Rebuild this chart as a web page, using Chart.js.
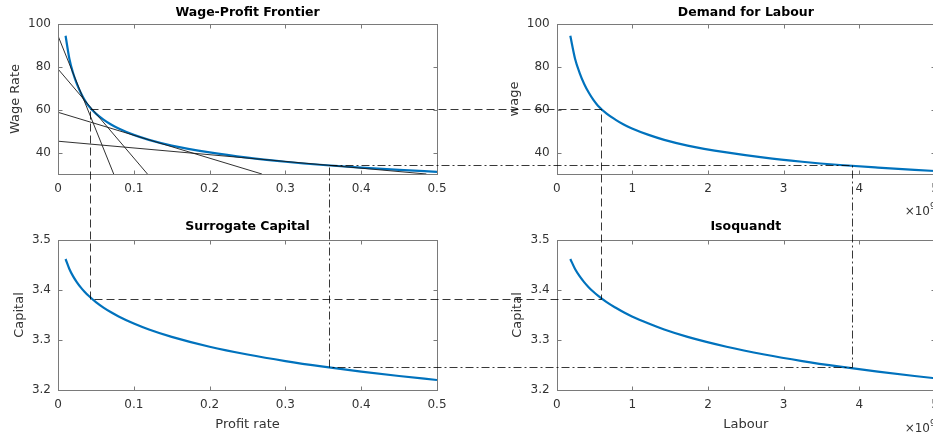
<!DOCTYPE html>
<html>
<head>
<meta charset="utf-8">
<script src="https://cdn.jsdelivr.net/npm/chart.js@4.4.1/dist/chart.umd.min.js"></script>
<style>
  html, body { margin: 0; padding: 0; background: #fff; overflow: hidden; width: 933px; height: 437px; }
  canvas { position: absolute; }
  #overlay { left: 0; top: 0; pointer-events: none; }
</style>
</head>
<body>
<canvas id="wpf" width="470" height="218" style="left:0;top:0"></canvas>
<canvas id="dfl" width="480" height="218" style="left:470px;top:0"></canvas>
<canvas id="sc" width="470" height="237" style="left:0;top:200px"></canvas>
<canvas id="iso" width="480" height="237" style="left:470px;top:200px"></canvas>
<canvas id="overlay" width="933" height="437"></canvas>
<script>
// everything is parametrised by the profit rate
const profitRate = [0.01, 0.015, 0.02, 0.025, 0.03, 0.035, 0.04, 0.05, 0.06, 0.07, 0.08, 0.10, 0.12, 0.15, 0.20, 0.25, 0.30, 0.35, 0.40, 0.45, 0.50];
const wageRate   = [94.5, 83.8, 77.0, 71.9, 67.9, 64.6, 61.9, 58.2, 55.4, 53.1, 51.25, 48.25, 45.95, 43.27, 40.07, 37.62, 35.73, 34.2, 32.98, 31.93, 31.0];
const capital    = [3.4620, 3.4421, 3.4272, 3.4153, 3.4052, 3.3966, 3.3889, 3.3758, 3.3649, 3.3555, 3.3472, 3.3330, 3.3211, 3.3063, 3.2866, 3.2710, 3.2579, 3.2467, 3.2368, 3.2280, 3.2200];
const labour     = [0.18, 0.2425, 0.305, 0.365, 0.425, 0.485, 0.545, 0.66, 0.775, 0.885, 0.995, 1.215, 1.421, 1.73, 2.245, 2.745, 3.245, 3.745, 4.245, 4.73, 5.215]; // x 10^9

// techniques (straight wage-profit lines), wage at r = 0 and rate where wage hits 30
const techWageAtZero = [94.5, 79.0, 58.8, 45.3];
const techRateAt30   = [0.0735, 0.118, 0.269, 0.486];

// the two dashed guide rectangles
const guideRate    = [0.042, 0.358];
const guideWage    = [60.5, 34.0];
const guideCapital = [3.383, 3.247];
const guideLabour  = [0.58, 3.9];

const rateTicks    = [0, 0.1, 0.2, 0.3, 0.4, 0.5];
const labourTicks  = [0, 1, 2, 3, 4, 5];
const wageTicks    = [40, 60, 80, 100];
const capitalTicks = [3.2, 3.3, 3.4, 3.5];

const FONT = "'DejaVu Sans', sans-serif";
const BLUE = '#0072BD';
const TXT = '#333333';

function pts(xs, ys) {
  return xs.map((x, i) => ({ x: x, y: ys[i] }));
}

// box, inward ticks on all sides, title and x10^9 label like a matlab axes
const matlabBox = {
  id: 'matlabBox',
  afterDraw(chart, args, opts) {
    const { ctx, chartArea: a, scales: { x, y } } = chart;
    const L = Math.round(a.left) + 0.5, R = Math.round(a.right) + 0.5;
    const T = Math.round(a.top) + 0.5, B = Math.round(a.bottom) + 0.5;
    ctx.save();
    ctx.strokeStyle = '#7a7a7a';
    ctx.lineWidth = 1;
    ctx.strokeRect(L, T, R - L, B - T);
    const tl = 4;
    ctx.beginPath();
    x.ticks.forEach(t => {
      const px = Math.round(x.getPixelForValue(t.value)) + 0.5;
      ctx.moveTo(px, B); ctx.lineTo(px, B - tl);
      ctx.moveTo(px, T); ctx.lineTo(px, T + tl);
    });
    y.ticks.forEach(t => {
      const py = Math.round(y.getPixelForValue(t.value)) + 0.5;
      ctx.moveTo(L, py); ctx.lineTo(L + tl, py);
      ctx.moveTo(R, py); ctx.lineTo(R - tl, py);
    });
    ctx.stroke();

    ctx.fillStyle = '#000';
    ctx.font = 'bold 12.5px ' + FONT;
    ctx.textAlign = 'center';
    ctx.textBaseline = 'alphabetic';
    ctx.fillText(opts.title, (a.left + a.right) / 2, a.top - opts.titleGap);

    if (opts.exponent) {
      ctx.fillStyle = TXT;
      ctx.textAlign = 'right';
      ctx.font = '12px ' + FONT;
      const bx = a.right - 5, by = a.bottom + opts.exponentGap;
      ctx.fillText('\u00d710', bx, by);
      ctx.textAlign = 'left';
      ctx.font = '9px ' + FONT;
      ctx.fillText('9', bx, by - 6);
    }
    ctx.restore();
  }
};

function axis(min, max, ticks, size, title, titlePad) {
  return {
    type: 'linear',
    min: min,
    max: max,
    afterBuildTicks: s => { s.ticks = ticks.map(v => ({ value: v })); },
    ticks: { font: { family: FONT, size: 12 }, color: TXT, padding: 7, autoSkip: false, maxRotation: 0, callback: v => String(v) },
    grid: { display: false, drawTicks: false },
    border: { display: false },
    title: title ? { display: true, text: title, color: TXT, font: { family: FONT, size: 13 }, padding: titlePad } : { display: false },
    afterFit: s => { if (s.isHorizontal()) s.height = size; else s.width = size; }
  };
}

function panel(id, datasets, xAxis, yAxis, pad, box) {
  const el = document.getElementById(id);
  return new Chart(el, {
    type: 'scatter',
    data: { datasets: datasets },
    options: {
      responsive: false,
      animation: false,
      events: [],
      layout: { padding: pad },
      plugins: { legend: { display: false }, tooltip: { enabled: false }, matlabBox: box },
      scales: { x: xAxis, y: yAxis }
    },
    plugins: [matlabBox]
  });
}

function curve(data) {
  return { data: data, showLine: true, borderColor: BLUE, borderWidth: 2.2, pointRadius: 0, cubicInterpolationMode: 'monotone' };
}

const techLines = techWageAtZero.map((w0, i) => ({
  data: [{ x: 0, y: w0 }, { x: techRateAt30[i], y: 30 }],
  showLine: true, borderColor: '#1a1a1a', borderWidth: 0.9, pointRadius: 0
}));

const xRate = axis(0, 0.5, rateTicks, 44);
xRate.ticks.padding = 8;
const wpf = panel('wpf',
  techLines.concat([curve(pts(profitRate, wageRate))]),
  xRate,
  axis(30, 100, wageTicks, 58, 'Wage Rate', { top: 8, bottom: 0 }),
  { left: 0, right: 33, top: 24, bottom: 0 },
  { title: 'Wage-Profit Frontier', titleGap: 8 });

const xLab = axis(0, 5, labourTicks, 44);
xLab.ticks.padding = 8;
const dfl = panel('dfl',
  [curve(pts(labour, wageRate))],
  xLab,
  axis(30, 100, wageTicks, 86.7, 'wage', { top: 37, bottom: 0 }),
  { left: 0, right: 15, top: 24, bottom: 0 },
  { title: 'Demand for Labour', titleGap: 8, exponent: true, exponentGap: 41 });

const xRate2 = axis(0, 0.5, rateTicks, 47, 'Profit rate', { top: 0, bottom: 5 });
xRate2.ticks.padding = 8;
const sc = panel('sc',
  [curve(pts(profitRate, capital))],
  xRate2,
  axis(3.2, 3.5, capitalTicks, 58, 'Capital', { top: 12, bottom: 0 }),
  { left: 0, right: 33, top: 40, bottom: 0 },
  { title: 'Surrogate Capital', titleGap: 10 });

const xLab2 = axis(0, 5, labourTicks, 47, 'Labour', { top: 0, bottom: 5 });
xLab2.ticks.padding = 8;
const iso = panel('iso',
  [curve(pts(labour, capital))],
  xLab2,
  axis(3.2, 3.5, capitalTicks, 86.7, 'Capital', { top: 40, bottom: 0 }),
  { left: 0, right: 15, top: 40, bottom: 0 },
  { title: 'Isoquandt', titleGap: 10, exponent: true, exponentGap: 42 });

// guide rectangles linking the four panels
function pagePt(chart, xv, yv) {
  const c = chart.canvas;
  return [Math.round(c.offsetLeft + chart.scales.x.getPixelForValue(xv)) + 0.5,
          Math.round(c.offsetTop + chart.scales.y.getPixelForValue(yv)) + 0.5];
}

const ov = document.getElementById('overlay').getContext('2d');
const dashes = [[8, 4], [8, 3, 2, 3]];
guideRate.forEach((r, i) => {
  const p1 = pagePt(wpf, r, guideWage[i]);
  const p2 = pagePt(dfl, guideLabour[i], guideWage[i]);
  const p3 = pagePt(iso, guideLabour[i], guideCapital[i]);
  const p4 = pagePt(sc, r, guideCapital[i]);
  ov.save();
  ov.strokeStyle = 'rgba(0,0,0,0.78)';
  ov.lineWidth = 1;
  ov.setLineDash(dashes[i]);
  ov.beginPath();
  ov.moveTo(p1[0], p1[1]);
  ov.lineTo(p2[0], p2[1]);
  ov.lineTo(p3[0], p3[1]);
  ov.lineTo(p4[0], p4[1]);
  ov.closePath();
  ov.stroke();
  ov.restore();
});
</script>
</body>
</html>
